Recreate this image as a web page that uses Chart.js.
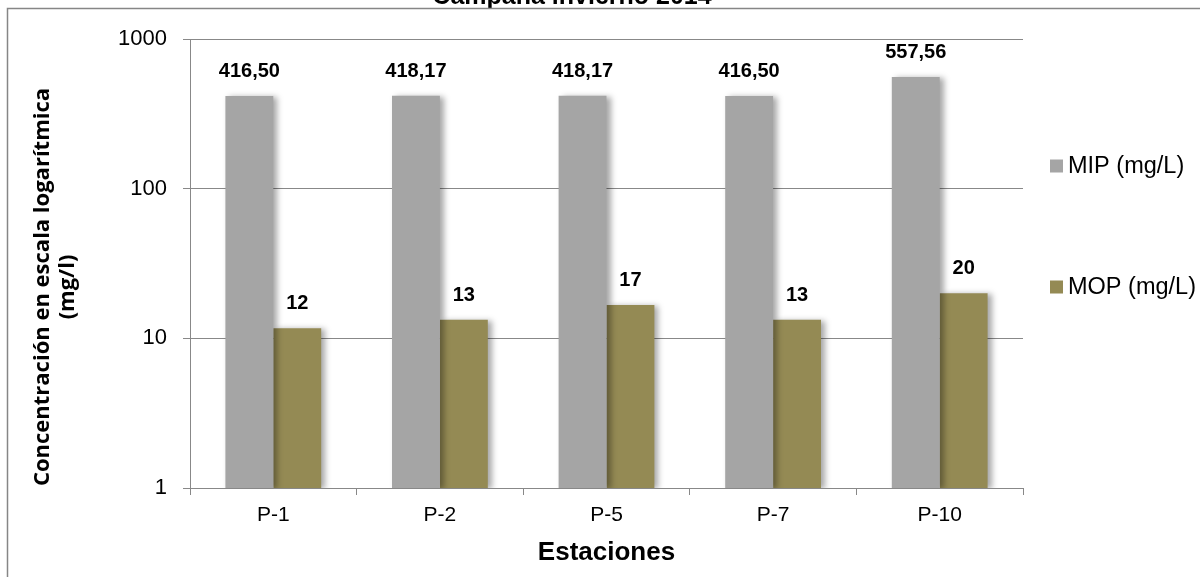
<!DOCTYPE html>
<html>
<head>
<meta charset="utf-8">
<script src="https://cdn.jsdelivr.net/npm/chart.js@4/dist/chart.umd.min.js"></script>
<style>
	html, body { margin: 0; padding: 0; background: #fff; }
	#wrap { width: 1200px; height: 577px; position: relative; }
</style>
</head>
<body>
<div id="wrap"><canvas id="chart"></canvas></div>
<script>
const categories = ["P-1", "P-2", "P-5", "P-7", "P-10"];
const mipValues = [416.5, 418.17, 418.17, 416.5, 557.56];
const mopValues = [11.67, 13.33, 16.67, 13.33, 20.0];
const yTickValues = [1, 10, 100, 1000];
const seriesNames = ["MIP (mg/L)", "MOP (mg/L)"];
const seriesColors = ["#a5a5a5", "#948a54"];

const chartTitle = "Campaña invierno 2014";
const yTitleLines = ["Concentración en escala logarítmica", "(mg/l)"];
const xTitle = "Estaciones";

const ARIAL = "'Liberation Sans', Arial, sans-serif";

//* soft shadow on the right side of the bars
const barShadow = {
	id: "barShadow",
	beforeDatasetsDraw(chart) {
		const ctx = chart.ctx;
		ctx.save();
		ctx.shadowColor = "rgba(0,0,0,0.35)";
		ctx.shadowBlur = 6;
		ctx.shadowOffsetX = 4;
		ctx.shadowOffsetY = 1;
	},
	afterDatasetsDraw(chart) {
		chart.ctx.restore();
	},
};

const valueLabels = {
	id: "valueLabels",
	afterDatasetsDraw(chart) {
		const ctx = chart.ctx;
		ctx.save();
		ctx.font = "bold 20px " + ARIAL;
		ctx.fillStyle = "#000";
		ctx.textAlign = "center";
		ctx.textBaseline = "alphabetic";
		chart.data.datasets.forEach((ds, di) => {
			chart.getDatasetMeta(di).data.forEach((bar, i) => {
				const v = ds.data[i];
				const txt = di === 0 ? v.toFixed(2).replace(".", ",") : String(Math.round(v));
				ctx.fillText(txt, bar.x, bar.y - 19);
			});
		});
		ctx.restore();
	},
};

//* frame, clipped title, y-axis title and legend
const decorations = {
	id: "decorations",
	afterDraw(chart) {
		const ctx = chart.ctx;
		ctx.save();

		// title (cut by the top of the picture)
		ctx.save();
		ctx.beginPath();
		ctx.rect(0, 0, 1200, 8);
		ctx.clip();
		ctx.font = "bold 25px " + ARIAL;
		ctx.fillStyle = "#000";
		ctx.textAlign = "center";
		ctx.textBaseline = "alphabetic";
		ctx.fillText(chartTitle, 572, 4);
		ctx.restore();

		// frame
		ctx.strokeStyle = "#868686";
		ctx.lineWidth = 1.5;
		ctx.beginPath();
		ctx.moveTo(7.5, 577);
		ctx.lineTo(7.5, 8.5);
		ctx.lineTo(1200, 8.5);
		ctx.stroke();

		// y title
		ctx.save();
		ctx.translate(0, 287);
		ctx.rotate(-Math.PI / 2);
		ctx.font = "bold 22px 'Open Sans', sans-serif";
		ctx.fillStyle = "#000";
		ctx.textAlign = "center";
		ctx.textBaseline = "middle";
		ctx.fillText(yTitleLines[0], 0, 43);
		ctx.fillText(yTitleLines[1], 0, 68);
		ctx.restore();

		// legend
		const legendY = [166, 287];
		ctx.font = "23.5px " + ARIAL;
		ctx.textAlign = "left";
		ctx.textBaseline = "middle";
		seriesNames.forEach((name, i) => {
			ctx.fillStyle = seriesColors[i];
			ctx.fillRect(1050, legendY[i] - 6.5, 13, 13);
			ctx.fillStyle = "#000";
			ctx.fillText(name, 1068, legendY[i] + 1);
		});

		ctx.restore();
	},
};

const config = {
	type: "bar",
	data: {
		labels: categories,
		datasets: [
			{
				label: seriesNames[0],
				data: mipValues,
				backgroundColor: seriesColors[0],
				barPercentage: 1,
				categoryPercentage: 0.575,
			},
			{
				label: seriesNames[1],
				data: mopValues,
				backgroundColor: seriesColors[1],
				barPercentage: 1,
				categoryPercentage: 0.575,
			},
		],
	},
	options: {
		responsive: true,
		maintainAspectRatio: false,
		animation: false,
		layout: {
			padding: { left: 0, top: 39, right: 177, bottom: 0 },
		},
		plugins: {
			legend: { display: false },
			title: { display: false },
			tooltip: { enabled: false },
		},
		scales: {
			x: {
				afterFit: (scale) => {
					scale.height = 89;
				},
				grid: {
					offset: true,
					drawOnChartArea: false,
					drawTicks: true,
					tickLength: 7,
					color: "#888",
				},
				border: { color: "#888" },
				ticks: {
					color: "#000",
					padding: 8,
					font: { family: ARIAL, size: 21 },
				},
				title: {
					display: true,
					text: xTitle,
					color: "#000",
					font: { family: ARIAL, size: 26, weight: "bold" },
					padding: { top: 0, bottom: 9 },
				},
			},
			y: {
				type: "logarithmic",
				min: 1,
				max: 1000,
				afterFit: (scale) => {
					scale.width = 190;
				},
				afterBuildTicks: (scale) => {
					scale.ticks = yTickValues.map((v) => ({ value: v }));
				},
				grid: {
					color: "#888",
					tickLength: 7,
				},
				border: { color: "#888" },
				ticks: {
					color: "#000",
					padding: 16,
					font: { family: ARIAL, size: 22 },
					callback: (v) => String(v),
				},
			},
		},
	},
	plugins: [barShadow, valueLabels, decorations],
};

new Chart(document.getElementById("chart"), config);
</script>
</body>
</html>
